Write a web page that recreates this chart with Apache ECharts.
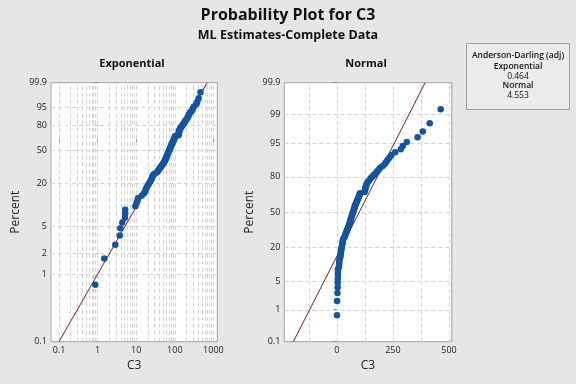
<!DOCTYPE html>
<html><head><meta charset="utf-8">
<script src="https://cdn.jsdelivr.net/npm/echarts@6/dist/echarts.min.js"></script>
<style>html,body{margin:0;padding:0;background:#e6e6e6}#c{width:576px;height:384px}</style>
</head><body><div id="c"></div>
<script>
const C3 = [0.87,1.49,2.87,3.74,3.87,4.36,5.1,5.2,5.2,9.5,
 10.2,10.8,11.3,14,16,17.2,17.8,18.6,20,21.2,
 22.5,23.7,24.8,25.8,26.5,27.5,30,34,36,38,
 40,42,44,46,48,50,52,54,55.5,57,
 58.5,60,61.5,62.5,64,65.5,67,68.5,70,71.5,
 73,74.5,76,77.5,79,80.5,82,84,86,88,
 90,92,94,96,98,100,101.5,103,124,125,
 126,127,128.5,130,132,134,138,143,148,153,
 160,166,173,180,186,192,203,213,219,226,
 234,243,260,285,294,312,360,383,414,463];
const expXTicks = [0.1, 1, 10, 100, 1000];
const expYTicks = [99.9, 95, 80, 50, 20, 5, 2, 1, 0.1];
const normXTicks = [0, 250, 500];
const normYTicks = [99.9, 99, 95, 80, 50, 20, 5, 1, 0.1];
const expXGrid = [0.1,0.2,0.3,0.4,0.5,0.6,0.7,0.8,0.9,1,2,3,4,5,6,7,8,9,10,20,30,40,50,60,70,80,90,100,200,300,400,500,600,700,800,900,1000];
const expYGrid = [95, 80, 50, 20, 5, 2, 1];
const normXGrid = [-125, 0, 125, 250, 375, 500];
const normYGrid = [99, 95, 80, 50, 20, 5, 1];
const expXRange = [0.062, 1262];
const normXRange = [-234, 512];
const pctRange = [0.1, 99.9];
const expTheta = 100;      // ML scale estimate (fit line)
const normMu = 100, normSigma = 95;  // ML normal estimates (fit line)
const adLines = ['Anderson-Darling (adj)', 'Exponential', '0.464', 'Normal', '4.553'];

function probit(p){
 const a=[-3.969683028665376e+01,2.209460984245205e+02,-2.759285104469687e+02,1.383577518672690e+02,-3.066479806614716e+01,2.506628277459239e+00];
 const b=[-5.447609879822406e+01,1.615858368580409e+02,-1.556989798598866e+02,6.680131188771972e+01,-1.328068155288572e+01];
 const c=[-7.784894002430293e-03,-3.223964580411365e-01,-2.400758277161838e+00,-2.549732539343734e+00,4.374664141464968e+00,2.938163982698783e+00];
 const d=[7.784695709041462e-03,3.224671290700398e-01,2.445134137142996e+00,3.754408661907416e+00];
 const pl=0.02425, ph=1-pl; let q,r;
 if(p<pl){q=Math.sqrt(-2*Math.log(p));return (((((c[0]*q+c[1])*q+c[2])*q+c[3])*q+c[4])*q+c[5])/((((d[0]*q+d[1])*q+d[2])*q+d[3])*q+1);}
 if(p<=ph){q=p-0.5;r=q*q;return (((((a[0]*r+a[1])*r+a[2])*r+a[3])*r+a[4])*r+a[5])*q/(((((b[0]*r+b[1])*r+b[2])*r+b[3])*r+b[4])*r+1);}
 q=Math.sqrt(-2*Math.log(1-p));return -(((((c[0]*q+c[1])*q+c[2])*q+c[3])*q+c[4])*q+c[5])/((((d[0]*q+d[1])*q+d[2])*q+d[3])*q+1);
}
const wb = pct => Math.log(-Math.log(1 - pct/100));   // exponential probability scale
const nz = pct => probit(pct/100);                      // normal probability scale
const lg = v => Math.log10(v);
const n = C3.length;
const pcts = C3.map((v,i) => 100*(i+1-0.3)/(n+0.4));   // median ranks

const FONT = '"Open Sans", "Noto Sans", sans-serif';
const fmtFrom = (ticks, tf) => v => { const t = ticks.find(t => Math.abs(tf(t)-v) < 1e-6); return t === undefined ? '' : String(t); };
const gridLineStyle = {color:'#d2d2d2', type:[4,3], width:1};

function xAxisDef(gi, range, tf, ticks){
 return {type:'value', gridIndex:gi, min:tf(range[0]), max:tf(range[1]),
  name:'C3', nameLocation:'middle', nameGap:16, nameTextStyle:{fontSize:12, color:'#222', fontFamily:FONT},
  axisLine:{show:false}, splitLine:{show:false},
  axisTick:{show:true, length:3, customValues: ticks.map(tf), lineStyle:{color:'#888'}},
  axisLabel:{customValues: ticks.map(tf), formatter: fmtFrom(ticks, tf), fontSize:9, color:'#222', margin:4, fontFamily:FONT}};
}
function yAxisDef(gi, tf, ticks){
 return {type:'value', gridIndex:gi, min:tf(pctRange[0]), max:tf(pctRange[1]),
  name:'Percent', nameLocation:'middle', nameGap:29, nameRotate:90, nameTextStyle:{fontSize:12, color:'#222', fontFamily:FONT},
  axisLine:{show:false}, splitLine:{show:false},
  axisTick:{show:true, length:3, customValues: ticks.map(tf), lineStyle:{color:'#888'}},
  axisLabel:{customValues: ticks.map(tf), formatter: fmtFrom(ticks, tf), fontSize:9, color:'#222', margin:4, fontFamily:FONT}};
}
const expLineP = [pctRange[0], pctRange[1]];
const markDef = data => ({silent:true, z:1, symbol:'none', animation:false, label:{show:false}, emphasis:{disabled:true}, lineStyle:gridLineStyle, data});
const option = {
 animation:false,
 backgroundColor:'#e6e6e6',
 grid:[
  {left:51, top:82.7, width:166.3, height:259, show:true, backgroundColor:'#fff', borderColor:'#a0a0a0', borderWidth:1},
  {left:284.3, top:82.7, width:167.4, height:259, show:true, backgroundColor:'#fff', borderColor:'#a0a0a0', borderWidth:1}
 ],
 xAxis:[ xAxisDef(0, expXRange, lg, expXTicks), xAxisDef(1, normXRange, v=>v, normXTicks) ],
 yAxis:[ yAxisDef(0, wb, expYTicks), yAxisDef(1, nz, normYTicks) ],
 series:[
  {type:'line', xAxisIndex:0, yAxisIndex:0, data:[], z:1, silent:true,
   markLine: markDef([...expXGrid.map(v=>({xAxis:lg(v)})), ...expYGrid.map(v=>({yAxis:wb(v)}))])},
  {type:'line', xAxisIndex:1, yAxisIndex:1, data:[], z:1, silent:true,
   markLine: markDef([...normXGrid.map(v=>({xAxis:v})), ...normYGrid.map(v=>({yAxis:nz(v)}))])},
  {type:'line', xAxisIndex:0, yAxisIndex:0, z:3, symbol:'none', silent:true,
   lineStyle:{color:'#8b1a1a', width:1},
   data: expLineP.map(p => [lg(expTheta*(-Math.log(1-p/100))), wb(p)])},
  {type:'line', xAxisIndex:1, yAxisIndex:1, z:3, symbol:'none', silent:true,
   lineStyle:{color:'#8b1a1a', width:1},
   data: expLineP.map(p => [normMu + normSigma*nz(p), nz(p)])},
  {type:'scatter', xAxisIndex:0, yAxisIndex:0, z:4, symbolSize:6.5, itemStyle:{color:'#13549e', opacity:1, borderWidth:0},
   data: C3.map((v,i)=>[lg(v), wb(pcts[i])])},
  {type:'scatter', xAxisIndex:1, yAxisIndex:1, z:4, symbolSize:6.5, itemStyle:{color:'#13549e', opacity:1, borderWidth:0},
   data: C3.map((v,i)=>[v, nz(pcts[i])])}
 ],
 graphic:[
  {type:'text', x:288, y:15, style:{text:'Probability Plot for C3', align:'center', verticalAlign:'middle', font:'bold 16px '+FONT, fill:'#111'}},
  {type:'text', x:288, y:35, style:{text:'ML Estimates-Complete Data', align:'center', verticalAlign:'middle', font:'bold 12.5px '+FONT, fill:'#111'}},
  {type:'text', x:132, y:64, style:{text:'Exponential', align:'center', verticalAlign:'middle', font:'bold 11px '+FONT, fill:'#111'}},
  {type:'text', x:366, y:64, style:{text:'Normal', align:'center', verticalAlign:'middle', font:'bold 11px '+FONT, fill:'#111'}},
  {type:'rect', shape:{x:466.5, y:43.5, width:103, height:66}, style:{fill:'#ececec', stroke:'#a0a0a0', lineWidth:1}},
  ...adLines.map((t,i)=>({type:'text', x:518, y:[55.7,66.3,76.3,86,95.5][i], style:{text:t, align:'center', verticalAlign:'middle', font:(i%2===1||i===0?'600 ':'')+'8.5px '+FONT, fill:'#111'}}))
 ]
};
const chart = echarts.init(document.getElementById('c'), null, {renderer:'canvas'});
chart.setOption(option);
</script></body></html>
